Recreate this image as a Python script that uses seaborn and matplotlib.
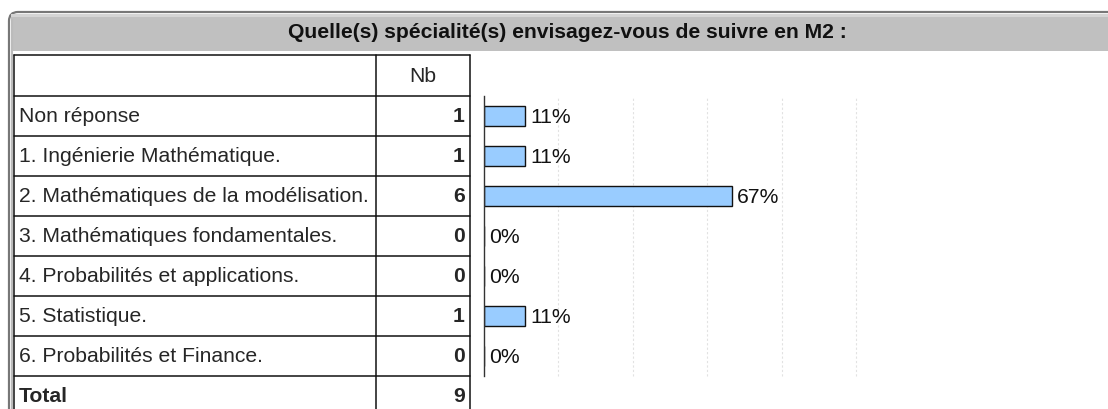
import numpy as np
import pandas as pd
import seaborn as sns
import matplotlib.pyplot as plt
from matplotlib.patches import Rectangle, FancyBboxPatch

title = "Quelle(s) spécialité(s) envisagez-vous de suivre en M2 :"
categories = [
    "Non réponse",
    "1. Ingénierie Mathématique.",
    "2. Mathématiques de la modélisation.",
    "3. Mathématiques fondamentales.",
    "4. Probabilités et applications.",
    "5. Statistique.",
    "6. Probabilités et Finance.",
]
counts = [1, 1, 6, 0, 0, 1, 0]
total = 9
grid_ticks = [20, 40, 60, 80, 100]

sns.set_theme(style="white")
plt.rcParams["font.family"] = ["Liberation Sans", "DejaVu Sans"]
FS = 15.2

df = pd.DataFrame({"cat": categories, "nb": counts})
df["pct"] = df["nb"] / total * 100

fig = plt.figure(figsize=(11.08, 4.09), dpi=100)

# background layer in pixel coords
bg = fig.add_axes([0, 0, 1, 1])
bg.set_xlim(0, 1108)
bg.set_ylim(409, 0)
bg.axis("off")

# frame + title bar
bg.add_patch(FancyBboxPatch((9, 12), 1140, 450, boxstyle="round,pad=0,rounding_size=9",
                            facecolor="white", edgecolor="#777777", lw=1.6))
bg.add_patch(Rectangle((11, 14), 1100, 37, facecolor="#c0c0c0", edgecolor="none"))
bg.add_patch(Rectangle((11, 14), 1100, 3, facecolor="#d4d4d4", edgecolor="none"))
bg.plot([11.5, 11.5], [20, 409], color="#bbbbbb", lw=1.5)
bg.text(567, 33, title, ha="center", va="center", fontsize=FS, fontweight="bold", color="#111111")

# table
row_y = [55, 96, 136, 176, 216, 256, 296, 336, 376]
for y in row_y:
    bg.plot([14, 470], [y, y], color="#111111", lw=1.1)
for x in [14, 376, 470]:
    bg.plot([x, x], [55, 409], color="#111111", lw=1.1)
bg.text(423, 76, "Nb", ha="center", va="center", fontsize=FS)
for i, (lab, n) in enumerate(zip(categories, counts)):
    yc = 117 + 40 * i
    bg.text(19, yc, lab, ha="left", va="center", fontsize=FS)
    bg.text(465, yc, str(n), ha="right", va="center", fontsize=FS, fontweight="bold")
bg.text(19, 397, "Total", ha="left", va="center", fontsize=FS, fontweight="bold")
bg.text(465, 397, str(total), ha="right", va="center", fontsize=FS, fontweight="bold")

# bar chart
ax = fig.add_axes([484 / 1108, (409 - 376) / 409, 372 / 1108, 280 / 409])
ax.set_facecolor("none")
sns.barplot(data=df, x="pct", y="cat", orient="h", color="#99ccff", edgecolor="#111111",
            linewidth=1, width=0.48, saturation=1, ax=ax)
ax.set_xlim(0, 100)
ax.set_ylim(6.5, -0.5)
ax.set_xticks(grid_ticks)
ax.set_yticks([])
ax.set_xlabel("")
ax.set_ylabel("")
ax.tick_params(bottom=False, labelbottom=False)
for g in grid_ticks:
    ax.axvline(g, color="#e2e2e2", lw=0.8, ls=(0, (2, 2)), zorder=0, clip_on=False)
for s in ["top", "right", "bottom"]:
    ax.spines[s].set_visible(False)
ax.spines["left"].set_color("#333333")
ax.spines["left"].set_linewidth(1)
for i, p in enumerate(df["pct"]):
    ax.text(p + 1.4, i + 0.03, f"{p:.0f}%", ha="left", va="center", fontsize=FS, color="#111111")

fig.savefig("out.png", dpi=100)
